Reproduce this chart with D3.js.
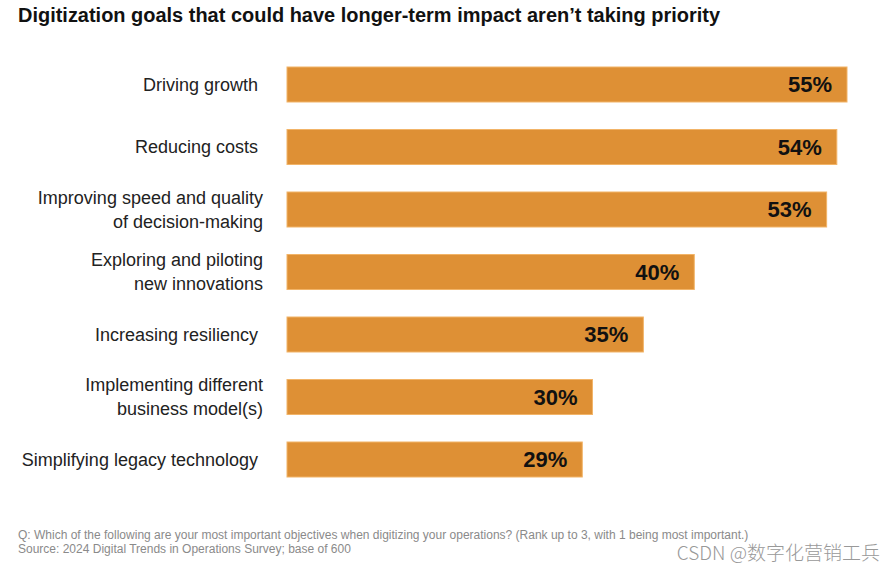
<!DOCTYPE html>
<html>
<head>
<meta charset="utf-8">
<script src="https://cdn.jsdelivr.net/npm/d3@7"></script>
<style>
  body { margin: 0; background: #fff; }
  svg { display: block; font-family: "Liberation Sans", Arial, sans-serif; }
</style>
</head>
<body>
<svg width="896" height="571"></svg>
<script>
// chart data
const categories = [
  ["Driving growth"],
  ["Reducing costs"],
  ["Improving speed and quality", "of decision-making"],
  ["Exploring and piloting", "new innovations"],
  ["Increasing resiliency"],
  ["Implementing different", "business model(s)"],
  ["Simplifying legacy technology"]
];
const values = [55, 54, 53, 40, 35, 30, 29];

const title = "Digitization goals that could have longer-term impact aren\u2019t taking priority";
const notes = [
  "Q: Which of the following are your most important objectives when digitizing your operations? (Rank up to 3, with 1 being most important.)",
  "Source: 2024 Digital Trends in Operations Survey; base of 600"
];

const svg = d3.select("svg");

// scales
const x = d3.scaleLinear().domain([0, 55]).range([287, 847]);
const y = d3.scaleBand()
    .domain(d3.range(values.length))
    .range([67, 477])
    .paddingInner(0.44)
    .paddingOuter(0);

// title
svg.append("text")
    .attr("x", 18)
    .attr("y", 22)
    .attr("font-size", 19.5)
    .attr("font-weight", "bold")
    .attr("fill", "#111")
    .attr("textLength", 702)
    .attr("lengthAdjust", "spacingAndGlyphs")
    .text(title);

// bars
svg.append("g")
    .selectAll("rect")
    .data(values)
    .enter()
    .append("rect")
    .attr("x", x(0))
    .attr("y", (d, i) => y(i))
    .attr("width", d => x(d) - x(0))
    .attr("height", y.bandwidth())
    .attr("fill", "#de9035")
    .attr("stroke", "#f2b468")
    .attr("stroke-width", 1);

// value labels
svg.append("g")
    .selectAll("text")
    .data(values)
    .enter()
    .append("text")
    .attr("x", d => x(d) - 15)
    .attr("y", (d, i) => y(i) + y.bandwidth() / 2)
    .attr("dy", "0.36em")
    .attr("text-anchor", "end")
    .attr("font-size", 22)
    .attr("font-weight", "bold")
    .attr("fill", "#111")
    .text(d => d + "%");

// category labels
const lab = svg.append("g")
    .selectAll("text")
    .data(categories)
    .enter()
    .append("text")
    .attr("text-anchor", "end")
    .attr("font-size", 18)
    .attr("fill", "#222")
    .attr("transform", (d, i) => `translate(${d.length > 1 ? 263 : 258},${y(i) + y.bandwidth() / 2})`);

lab.selectAll("tspan")
    .data(d => d.map((t, k) => ({ t: t, k: k, n: d.length })))
    .enter()
    .append("tspan")
    .attr("x", 0)
    .attr("y", d => (d.k - (d.n - 1) / 2) * 24)
    .attr("dy", "0.35em")
    .text(d => d.t);

// footnotes
svg.append("g")
    .selectAll("text")
    .data(notes)
    .enter()
    .append("text")
    .attr("x", 18)
    .attr("y", (d, i) => 539 + i * 14)
    .attr("font-size", 12)
    .attr("fill", "#8a8a8a")
    .text(d => d);

// watermark
svg.append("text")
    .attr("x", 880)
    .attr("y", 560)
    .attr("text-anchor", "end")
    .attr("font-size", 19)
    .attr("fill", "#999")
    .attr("font-family", "'Noto Sans CJK SC', sans-serif")
    .attr("font-weight", 300)
    .text("CSDN @数字化营销工兵");
</script>
</body>
</html>
